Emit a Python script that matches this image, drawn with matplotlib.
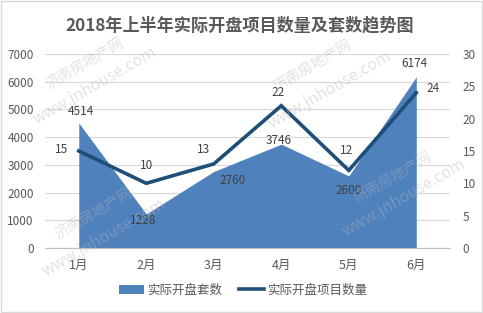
import matplotlib
matplotlib.use('Agg')
import matplotlib.pyplot as plt
from matplotlib.patches import Patch, Rectangle
from matplotlib.lines import Line2D

plt.rcParams['font.family'] = ['Noto Sans CJK SC', 'DejaVu Sans']

# data
months = ['1月', '2月', '3月', '4月', '5月', '6月']
units = [4514, 1228, 2760, 3746, 2600, 6174]        # 实际开盘套数
projects = [15, 10, 13, 22, 12, 24]                 # 实际开盘项目数量
title = '2018年上半年实际开盘项目数量及套数趋势图'
area_name = '实际开盘套数'
line_name = '实际开盘项目数量'

AREA_C = '#4F81BD'
LINE_C = '#1F4E79'
TXT_C = '#595959'
LBL_C = '#404040'

# label offsets in pixels
unit_off = [(2, 11), (-3, -7), (19, -9), (-3, 4), (0, -15), (-2, 13)]
proj_off = [(-17, 1), (0, 18), (-10, 14), (-3, 13), (-2, 20), (17, 4)]

fig = plt.figure(figsize=(4.83, 3.13), dpi=100)
ax = fig.add_axes([0.0932, 0.2077, 0.8385, 0.6198])
ax2 = ax.twinx()

x = list(range(len(months)))
ax.fill_between(x, units, 0, color=AREA_C, lw=0, zorder=2)
ax.set_xlim(-0.5, 5.5)
ax.set_ylim(0, 7000)
ax.set_yticks(range(0, 7001, 1000))
ax.grid(axis='y', color='#D9D9D9', lw=0.9, zorder=0)
ax.set_axisbelow(True)
ax.set_xticks(x)
ax.set_xticklabels(months)

ax2.plot(x, projects, color=LINE_C, lw=2.6, solid_joinstyle='miter', zorder=3)
ax2.set_ylim(0, 30)
ax2.set_yticks(range(0, 31, 5))

for a in (ax, ax2):
    for s in a.spines.values():
        s.set_visible(False)
    a.tick_params(length=0, labelsize=8.5, labelcolor=TXT_C)
ax.spines['bottom'].set_visible(True)
ax.spines['bottom'].set_color('#BFBFBF')
ax.tick_params(axis='y', pad=8)
ax.tick_params(axis='x', pad=8, labelsize=9)
ax2.tick_params(axis='y', pad=9)

for xi, v, (dx, dy) in zip(x, units, unit_off):
    ax.annotate(str(v), (xi, v), xytext=(dx, dy), textcoords='offset pixels',
                ha='center', va='center', fontsize=8.5, color=LBL_C, zorder=5)
for xi, v, (dx, dy) in zip(x, projects, proj_off):
    ax2.annotate(str(v), (xi, v), xytext=(dx, dy), textcoords='offset pixels',
                 ha='center', va='center', fontsize=8.5, color=LBL_C, zorder=5)

fig.text(0.497, 0.92, title, ha='center', va='center', fontsize=12.3,
         fontweight='bold', color=TXT_C)

handles = [Patch(facecolor=AREA_C, edgecolor='none'),
           Line2D([0], [0], color=LINE_C, lw=2.6)]
fig.legend(handles, [area_name, line_name], loc='center', ncol=2,
           bbox_to_anchor=(0.503, 0.073), frameon=False, fontsize=9,
           labelcolor=TXT_C, handlelength=2.0, handletextpad=0.2,
           columnspacing=1.4)

# watermark
wm_cn = [(85, 64), (94, 214), (313, 66), (393, 178)]
wm_en = [(95, 86), (104, 238), (330, 90), (404, 198)]
W, H = 483, 313
for px, py in wm_cn:
    fig.text(px / W, 1 - py / H, '济南房地产网', rotation=30, ha='center', va='center',
             fontsize=10.5, color='#B8B8B8', alpha=0.4, zorder=10)
for px, py in wm_en:
    fig.text(px / W, 1 - py / H, 'www.jnhouse.com', rotation=30, ha='center', va='center',
             fontsize=11.5, color='#B8B8B8', alpha=0.4, zorder=10)

fig.patches.append(Rectangle((0.002, 0.003), 0.995, 0.994, transform=fig.transFigure,
                             fill=False, edgecolor='#D9D9D9', lw=1))

fig.savefig('out.png', dpi=100)
